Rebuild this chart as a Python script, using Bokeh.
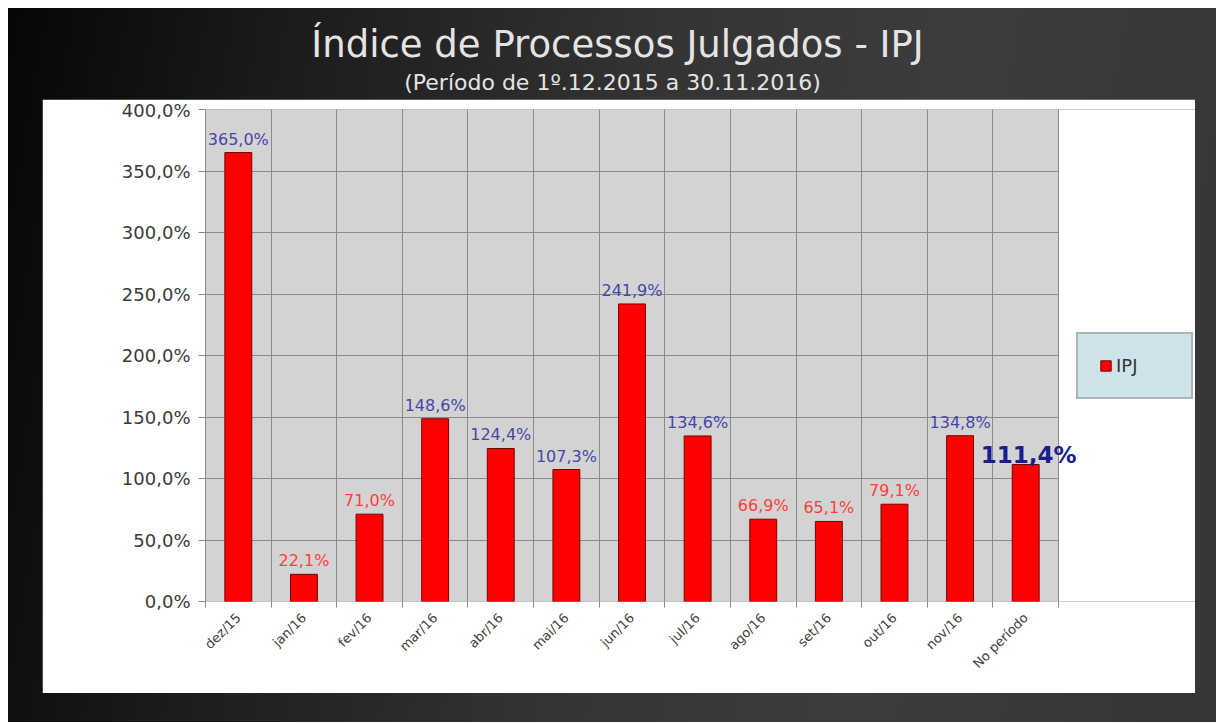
import math
from bokeh.plotting import figure
from bokeh.models import (ColumnDataSource, Range1d, FixedTicker, Spacer,
                          Legend, LegendItem, Label, BoxAnnotation)
from bokeh.layouts import column, row
from bokeh.core.properties import value
from bokeh.embed import file_html
from bokeh.resources import INLINE

# ---------------- data ----------------
categories = ["dez/15", "jan/16", "fev/16", "mar/16", "abr/16", "mai/16",
              "jun/16", "jul/16", "ago/16", "set/16", "out/16", "nov/16",
              "No período"]
ipj = [365.0, 22.1, 71.0, 148.6, 124.4, 107.3, 241.9, 134.6, 66.9, 65.1,
       79.1, 134.8, 111.4]
y_ticks = [0, 50, 100, 150, 200, 250, 300, 350, 400]
series_name = "IPJ"
title_text = "Índice de Processos Julgados - IPJ"
subtitle_text = "(Período de 1º.12.2015  a  30.11.2016)"

# ---------------- styles ----------------
FONT = "DejaVu Sans"
BLUE = "#4646aa"
RED = "#ff3b3b"
NAVY = "#1c1c8c"
GRID = "#8a8a8a"


def fmt(v):
    return f"{v:.1f}".replace(".", ",") + "%"


n = len(categories)
xs = list(range(n))
x0, x1 = -0.5, n - 0.5
y0, y1 = min(y_ticks), max(y_ticks)

bars_src = ColumnDataSource(dict(x=xs, top=ipj))
lab_src = ColumnDataSource(dict(
    x=xs[:-1], top=ipj[:-1],
    label=[fmt(v) for v in ipj[:-1]],
    color=[BLUE if v >= 100 else RED for v in ipj[:-1]],
))

# ---------------- header ----------------
W = 1208
header = figure(width=W, height=91, x_range=Range1d(0, W), y_range=Range1d(91, 0),
                output_backend="svg", toolbar_location=None,
                x_axis_type=None, y_axis_type=None, min_border=0,
                outline_line_color=None, background_fill_alpha=0,
                border_fill_alpha=0)
header.grid.visible = False
header.text(x=[609], y=[36], text=[title_text], text_font=value(FONT),
            text_font_size="37px", text_color="#e4e4e4", text_align="center",
            text_baseline="alphabetic")
header.text(x=[611], y=[74], text=[subtitle_text], text_font=value(FONT),
            text_font_size="22px", text_color="#e4e4e4", text_align="center",
            text_baseline="alphabetic")

# ---------------- main chart ----------------
# the frame spans the plot area plus the legend strip on its right
PANEL_W, PANEL_H = 1153, 594
LEFT, RIGHT, TOP, BOTTOM = 163, 0, 10, 92
PLOT_W = 853                       # pixel width of the gridded plot area
FRAME_W = PANEL_W - LEFT - RIGHT
x_end = x0 + (x1 - x0) * FRAME_W / PLOT_W

p = figure(width=PANEL_W, height=PANEL_H,
           x_range=Range1d(x0, x_end), y_range=Range1d(y0, y1),
           output_backend="svg", toolbar_location=None,
           min_border_left=LEFT, min_border_right=RIGHT,
           min_border_top=TOP, min_border_bottom=BOTTOM,
           background_fill_color="white", border_fill_color="white")
p.outline_line_color = None

# grey plotting area (drawn beneath the grid), with its own border
p.add_layout(BoxAnnotation(left=x0, right=x1, bottom=y0, top=y1,
                           fill_color="#d3d3d3", fill_alpha=1,
                           line_color=GRID, line_width=1, level="image"))

bars = p.vbar(x="x", top="top", width=0.41, source=bars_src,
              fill_color="#ff0000", line_color="#7a0000", line_width=1)

p.text(x="x", y="top", text="label", source=lab_src, text_color="color",
       text_font=value(FONT), text_font_size="16px", text_align="center",
       text_baseline="bottom", y_offset=-4)

total_label = Label(x=xs[-1], y=ipj[-1], text=fmt(ipj[-1]), text_color=NAVY,
                    text_font=FONT, text_font_size="23px",
                    text_font_style="bold", text_align="center",
                    text_baseline="bottom", x_offset=3, y_offset=-4)
p.add_layout(total_label)

# x axis: labels at centres, ticks/grid at category boundaries
xa = p.xaxis[0]
xa.ticker = FixedTicker(ticks=xs, minor_ticks=[i - 0.5 for i in range(n + 1)])
xa.bounds = (x0, x1)
xa.major_label_overrides = {i: c for i, c in enumerate(categories)}
xa.major_label_orientation = math.pi / 4
xa.major_label_text_font = FONT
xa.major_label_text_font_size = "13px"
xa.major_label_text_color = "#404040"
xa.major_label_standoff = 8
xa.major_tick_in = 0
xa.major_tick_out = 0
xa.minor_tick_in = 0
xa.minor_tick_out = 6
xa.minor_tick_line_color = GRID
xa.axis_line_color = None

ya = p.yaxis[0]
ya.ticker = FixedTicker(ticks=y_ticks, minor_ticks=[])
ya.major_label_overrides = {t: fmt(t) for t in y_ticks}
ya.major_label_text_font = FONT
ya.major_label_text_font_size = "18px"
ya.major_label_text_color = "#3a3a3a"
ya.major_label_standoff = 8
ya.major_tick_in = 0
ya.major_tick_out = 7
ya.major_tick_line_color = GRID
ya.axis_line_color = GRID

p.xgrid.grid_line_color = None
p.xgrid.minor_grid_line_color = GRID
p.ygrid.ticker = FixedTicker(ticks=y_ticks[1:-1], minor_ticks=[])
p.ygrid.grid_line_color = GRID
p.ygrid.cross_bounds = (x0, x1)

legend = Legend(items=[LegendItem(label=series_name, renderers=[bars])],
                location=(871, 202), padding=21, margin=0, spacing=0,
                glyph_width=13, glyph_height=13, label_height=20,
                label_width=54, label_standoff=4,
                label_text_font=FONT, label_text_font_size="18px",
                label_text_color="#333333",
                background_fill_color="#cfe3ea", background_fill_alpha=1,
                border_line_color=GRID, border_line_width=2)
p.add_layout(legend)

inner = column(
    header,
    row(Spacer(width=34, height=PANEL_H), p, Spacer(width=21, height=PANEL_H)),
    Spacer(width=W, height=29),
    styles={"background": "linear-gradient(100deg, #060606 0%, #1c1c1c 22%, "
                          "#343434 50%, #3c3c3c 72%, #353535 100%)"},
)

layout = column(Spacer(width=1216, height=8),
                row(Spacer(width=8, height=714), inner))

open("out.html", "w").write(file_html(layout, INLINE))
